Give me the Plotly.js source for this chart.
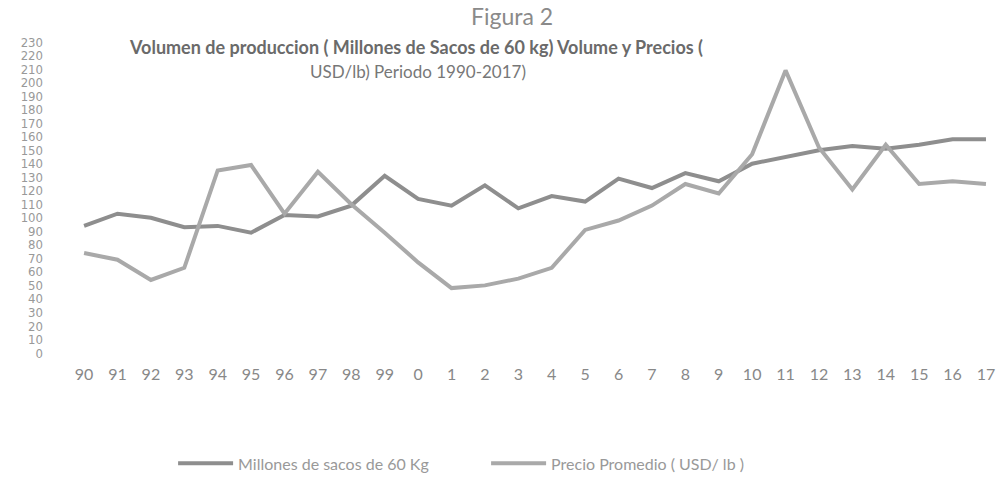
<!DOCTYPE html>
<html>
<head>
<meta charset="utf-8">
<script src="https://cdn.plot.ly/plotly-3.0.1.min.js"></script>
<style>html,body{margin:0;padding:0;background:#fff;}#chart{width:1002px;height:484px;}</style>
</head>
<body>
<div id="chart"></div>
<script>
// Year labels (1990-2017, shown as two-digit / short labels)
var years = ["90","91","92","93","94","95","96","97","98","99","0","1","2","3","4","5","6","7","8","9","10","11","12","13","14","15","16","17"];
// Millones de sacos de 60 Kg (production)
var produccion = [94, 103, 100, 93, 94, 89, 102, 101, 109, 131, 114, 109, 124, 107, 116, 112, 129, 122, 133, 127, 140, 145, 150, 153, 151, 154, 158, 158];
// Precio Promedio (USD/lb), in US cents
var precio = [74, 69, 54, 63, 135, 139, 103, 134, 110, 89, 67, 48, 50, 55, 63, 91, 98, 109, 125, 118, 147, 209, 152, 121, 154, 125, 127, 125];
// Y tick values
var yTicks = [0,10,20,30,40,50,60,70,80,90,100,110,120,130,140,150,160,170,180,190,200,210,220,230];

var xIdx = years.map(function(_, i){ return i; });

var traces = [
  {x: xIdx, y: produccion, type: 'scatter', mode: 'lines', name: 'Millones de sacos de 60 Kg',
   line: {color: '#8e8e8e', width: 4}},
  {x: xIdx, y: precio, type: 'scatter', mode: 'lines', name: 'Precio Promedio ( USD/ lb )',
   line: {color: '#a9a9a9', width: 4}}
];

var layout = {
  width: 1002, height: 484,
  margin: {l: 46, r: 4, t: 42, b: 123},
  paper_bgcolor: '#ffffff', plot_bgcolor: '#ffffff',
  font: {family: 'Lato, "Open Sans", sans-serif', color: '#888'},
  title: {text: 'Figura 2', x: 0.511, xanchor: 'center', y: 0.966, yanchor: 'middle',
          font: {size: 23, color: '#8a8a8a', family: 'Lato, sans-serif'}},
  xaxis: {
    range: [-1.14, 27.36], tickmode: 'array', tickvals: xIdx, ticktext: years,
    showgrid: false, zeroline: false, showline: false, ticks: '',
    tickfont: {size: 16, color: '#888', family: 'Lato, sans-serif'},
    ticklabelstandoff: 10, fixedrange: true
  },
  yaxis: {
    range: [0, 230], tickmode: 'array', tickvals: yTicks, ticktext: yTicks.map(String),
    showgrid: false, zeroline: false, showline: false, ticks: '',
    tickfont: {size: 13, color: '#999', family: '"Liberation Sans Narrow", "DejaVu Sans Condensed", sans-serif'},
    ticklabelstandoff: 2, fixedrange: true
  },
  showlegend: true,
  legend: {orientation: 'h', x: 0.1335, xanchor: 'left', y: -0.355, yanchor: 'middle',
           font: {size: 16, color: '#999', family: 'Lato, sans-serif'},
           entrywidth: 243, entrywidthmode: 'pixels', itemwidth: 55, tracegroupgap: 0},
  annotations: [
    {xref: 'paper', yref: 'paper', x: 0.389, y: 0.985, xanchor: 'center', yanchor: 'middle', showarrow: false,
     text: '<b>Volumen de produccion ( Millones de Sacos de 60 kg) Volume y Precios (</b>',
     font: {size: 18, color: '#6a6a6a', family: 'Lato, sans-serif'}},
    {xref: 'paper', yref: 'paper', x: 0.391, y: 0.905, xanchor: 'center', yanchor: 'middle', showarrow: false,
     text: 'USD/lb) Periodo 1990-2017)',
     font: {size: 17, color: '#777', family: 'Lato, sans-serif'}}
  ]
};

Plotly.newPlot('chart', traces, layout, {displayModeBar: false, staticPlot: true});
</script>
</body>
</html>
